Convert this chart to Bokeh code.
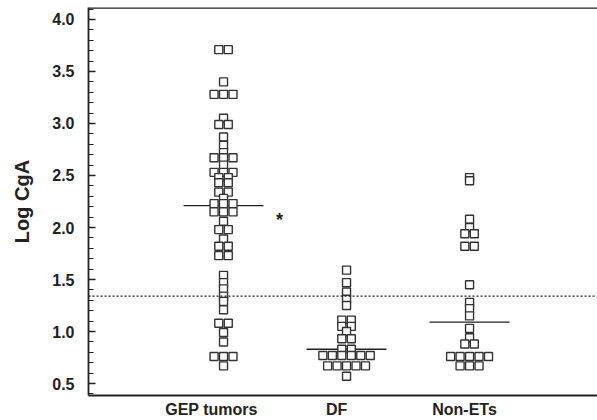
import numpy as np
from bokeh.plotting import figure
from bokeh.models import ColumnDataSource, FixedTicker, Range1d, Span
from bokeh.core.properties import value
from bokeh.embed import file_html
from bokeh.resources import INLINE

# ---- data ----
groups = ["GEP tumors", "DF", "Non-ETs"]
gep_values = [3.71, 3.71, 3.40, 3.28, 3.28, 3.28, 3.05, 2.99, 2.99, 2.87, 2.79, 2.72,
              2.67, 2.67, 2.67, 2.60, 2.53, 2.53, 2.53, 2.48, 2.48, 2.43, 2.43,
              2.34, 2.34, 2.28, 2.23, 2.23, 2.23, 2.15, 2.15, 2.15, 2.06, 1.98, 1.98,
              1.89, 1.82, 1.82, 1.73, 1.73, 1.54, 1.47, 1.41, 1.34, 1.29, 1.21,
              1.08, 1.08, 0.99, 0.90, 0.76, 0.76, 0.76, 0.67]
df_values = [1.59, 1.47, 1.38, 1.31, 1.25, 1.11, 1.11, 1.05, 1.05, 1.00, 0.93, 0.93,
             0.83, 0.83, 0.77, 0.77, 0.77, 0.77, 0.77, 0.77, 0.67, 0.67, 0.67, 0.67,
             0.67, 0.57]
nonet_values = [2.48, 2.45, 2.08, 2.00, 1.94, 1.94, 1.82, 1.82, 1.45, 1.28, 1.22, 1.15,
                1.03, 0.94, 0.88, 0.88, 0.76, 0.76, 0.76, 0.76, 0.76, 0.67, 0.67, 0.67]
medians = [2.21, 0.83, 1.09]
cutoff = 1.34
y_ticks = [0.5, 1.0, 1.5, 2.0, 2.5, 3.0, 3.5, 4.0]
y_tick_labels = ["0.5", "1.0", "1.5", "2.0", "2.5", "3.0", "3.5", "4.0"]

# ---- layout constants ----
STEP = 0.077      # horizontal spacing of side-by-side squares (x units)
HALF_MED = 0.325  # half length of median bars
label_pos = [0.902, 1.919, 2.959]
ink = "#222222"
font = "Liberation Sans"
Y0, Y1 = 0.385, 4.115

def dot_positions(center, vals):
    xs, ys = [], []
    for u in sorted(set(vals), reverse=True):
        n = vals.count(u)
        for i in range(n):
            xs.append(center + (i - (n - 1) / 2) * STEP)
            ys.append(u)
    return xs, ys

all_x, all_y = [], []
for c, vals in zip([1, 2, 3], [gep_values, df_values, nonet_values]):
    xs, ys = dot_positions(c, vals)
    all_x += xs
    all_y += ys

p = figure(width=597, height=420, output_backend="svg", toolbar_location=None,
           x_range=Range1d(-0.0976, 4.04), y_range=Range1d(Y0, Y1),
           min_border_left=88, min_border_right=0, min_border_top=7, min_border_bottom=24)
p.outline_line_color = None
p.grid.visible = False
p.background_fill_color = "white"

# top frame line
p.add_layout(Span(location=Y1 - 0.004, dimension="width", line_color=ink, line_width=1.8))

# dotted cutoff line
p.add_layout(Span(location=cutoff, dimension="width", line_color=ink,
                  line_dash="2 2", line_width=1.3))

# median bars
p.segment(x0=[c - HALF_MED for c in [1, 2, 3]], x1=[c + HALF_MED for c in [1, 2, 3]],
          y0=medians, y1=medians, line_color=ink, line_width=1.4)

# points
src = ColumnDataSource(dict(x=all_x, y=all_y))
p.scatter("x", "y", source=src, marker="square", size=8, fill_color="white",
          line_color="#333333", line_width=1.4)

# asterisk
p.text(x=[1.455], y=[medians[0]], text=["*"], text_font=value(font),
       text_font_style="bold", text_font_size="18px", text_align="center",
       text_baseline="middle", y_offset=14, text_color=ink)

# y axis
ya = p.yaxis[0]
ya.ticker = FixedTicker(ticks=y_ticks,
                        minor_ticks=[round(0.4 + 0.1 * i, 2) for i in range(38)])
ya.major_label_overrides = {t: l for t, l in zip(y_ticks, y_tick_labels)}
ya.major_tick_in = 7
ya.major_tick_out = 0
ya.minor_tick_in = 5
ya.minor_tick_out = 0
ya.major_tick_line_color = ink
ya.minor_tick_line_color = ink
ya.major_tick_line_width = 1.3
ya.minor_tick_line_width = 1.2
ya.axis_line_color = ink
ya.axis_line_width = 1.8
ya.major_label_text_font = font
ya.major_label_text_font_style = "bold"
ya.major_label_text_font_size = "16px"
ya.major_label_text_color = ink
ya.major_label_standoff = 14
ya.axis_label = "Log CgA"
ya.axis_label_text_font = font
ya.axis_label_text_font_style = "bold"
ya.axis_label_text_font_size = "20px"
ya.axis_label_text_color = ink
ya.axis_label_standoff = 16

# x axis
xa = p.xaxis[0]
xa.ticker = FixedTicker(ticks=label_pos)
xa.major_label_overrides = {t: g for t, g in zip(label_pos, groups)}
xa.major_tick_line_color = None
xa.minor_tick_line_color = None
xa.major_tick_out = 0
xa.major_tick_in = 0
xa.axis_line_color = ink
xa.axis_line_width = 1.8
xa.major_label_text_font = font
xa.major_label_text_font_style = "bold"
xa.major_label_text_font_size = "16px"
xa.major_label_text_color = ink
xa.major_label_standoff = 5

open("out.html", "w").write(file_html(p, INLINE))
